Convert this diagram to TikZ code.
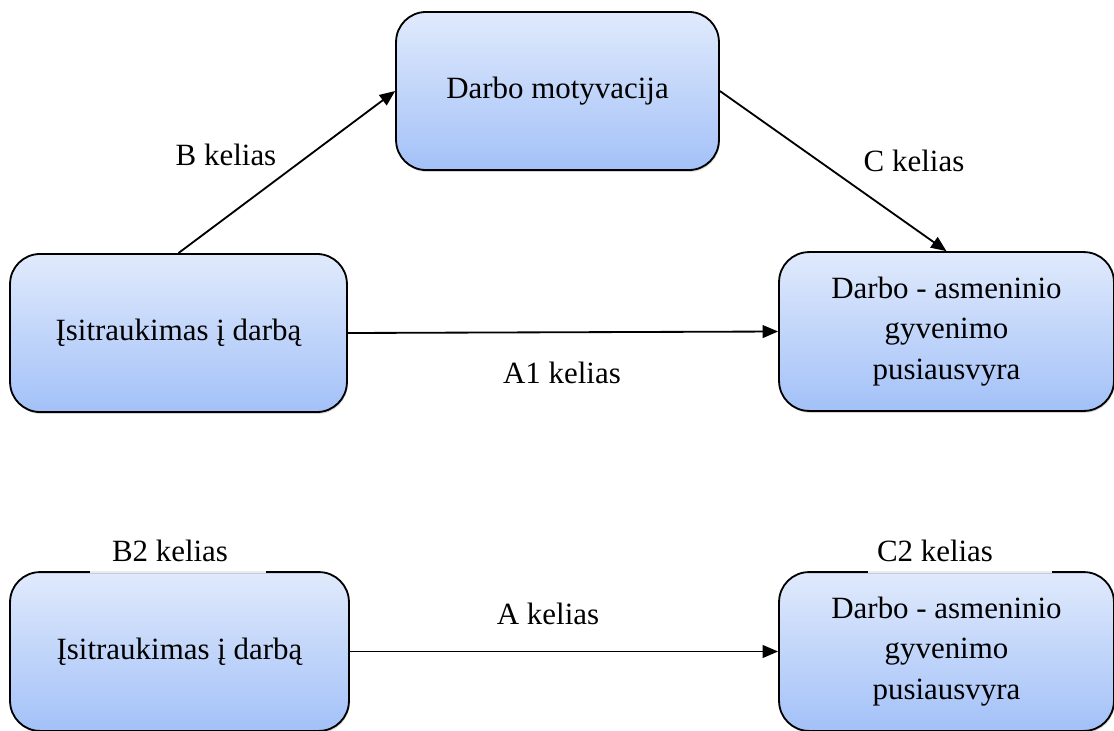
\documentclass[tikz,border=0pt]{standalone}
\usepackage{fontspec}
\setmainfont{Liberation Serif}
\usetikzlibrary{arrows.meta,shadows}

\definecolor{boxtop}{HTML}{E0EAFC}
\definecolor{boxbot}{HTML}{A3C1F8}

\tikzset{
  box/.style={draw, line width=1.3pt, rounded corners=0.75cm,
    top color=boxtop, bottom color=boxbot,
    drop shadow={shadow xshift=0.6pt, shadow yshift=-1.3pt, opacity=0.35},
    align=center, font=\fontsize{22}{29}\selectfont},
  path/.style={line width=1.3pt, -{Triangle[length=11pt,width=9pt]}},
  lbl/.style={font=\fontsize{22}{26}\selectfont}
}

\begin{document}
\begin{tikzpicture}[x=0.025cm, y=-0.025cm]
  \useasboundingbox (0,0) rectangle (1114,731);

  % upper model
  \node[box, minimum width=8.07cm, minimum height=3.95cm] (motyv) at (557.5,91) {Darbo motyvacija};
  \node[box, minimum width=8.42cm, minimum height=3.95cm] (itrauk) at (178.5,333) {Įsitraukimas į darbą};
  \node[box, minimum width=8.37cm, minimum height=3.97cm] (balans) at (946.5,331.5) {Darbo - asmeninio\\gyvenimo\\pusiausvyra};

  \draw[path] (itrauk.north) -- (motyv.west);
  \draw[path] (motyv.east) -- (balans.north);
  \draw[path] (itrauk.east) -- (balans.west);

  \node[lbl] (bkel) at (226,155) {B kelias};
  \node[lbl] (ckel) at (914,161) {C kelias};
  \node[lbl] (a1kel) at (562,373) {A1 kelias};

  % lower model
  \node[box, minimum width=8.47cm, minimum height=3.97cm] (itrauk2) at (179.5,651.5) {Įsitraukimas į darbą};
  \node[box, minimum width=8.37cm, minimum height=3.97cm] (balans2) at (946.5,651.5) {Darbo - asmeninio\\gyvenimo\\pusiausvyra};
  \draw[white!92!black, line width=1.6pt] (90,572) -- (266,572);
  \draw[white!92!black, line width=1.6pt] (868,572) -- (1052,572);

  \draw[path] (itrauk2.east) -- (balans2.west);

  \node[lbl] (b2kel) at (170,551) {B2 kelias};
  \node[lbl] (c2kel) at (935,551) {C2 kelias};
  \node[lbl] (akel) at (548,614) {A kelias};
\end{tikzpicture}
\end{document}
